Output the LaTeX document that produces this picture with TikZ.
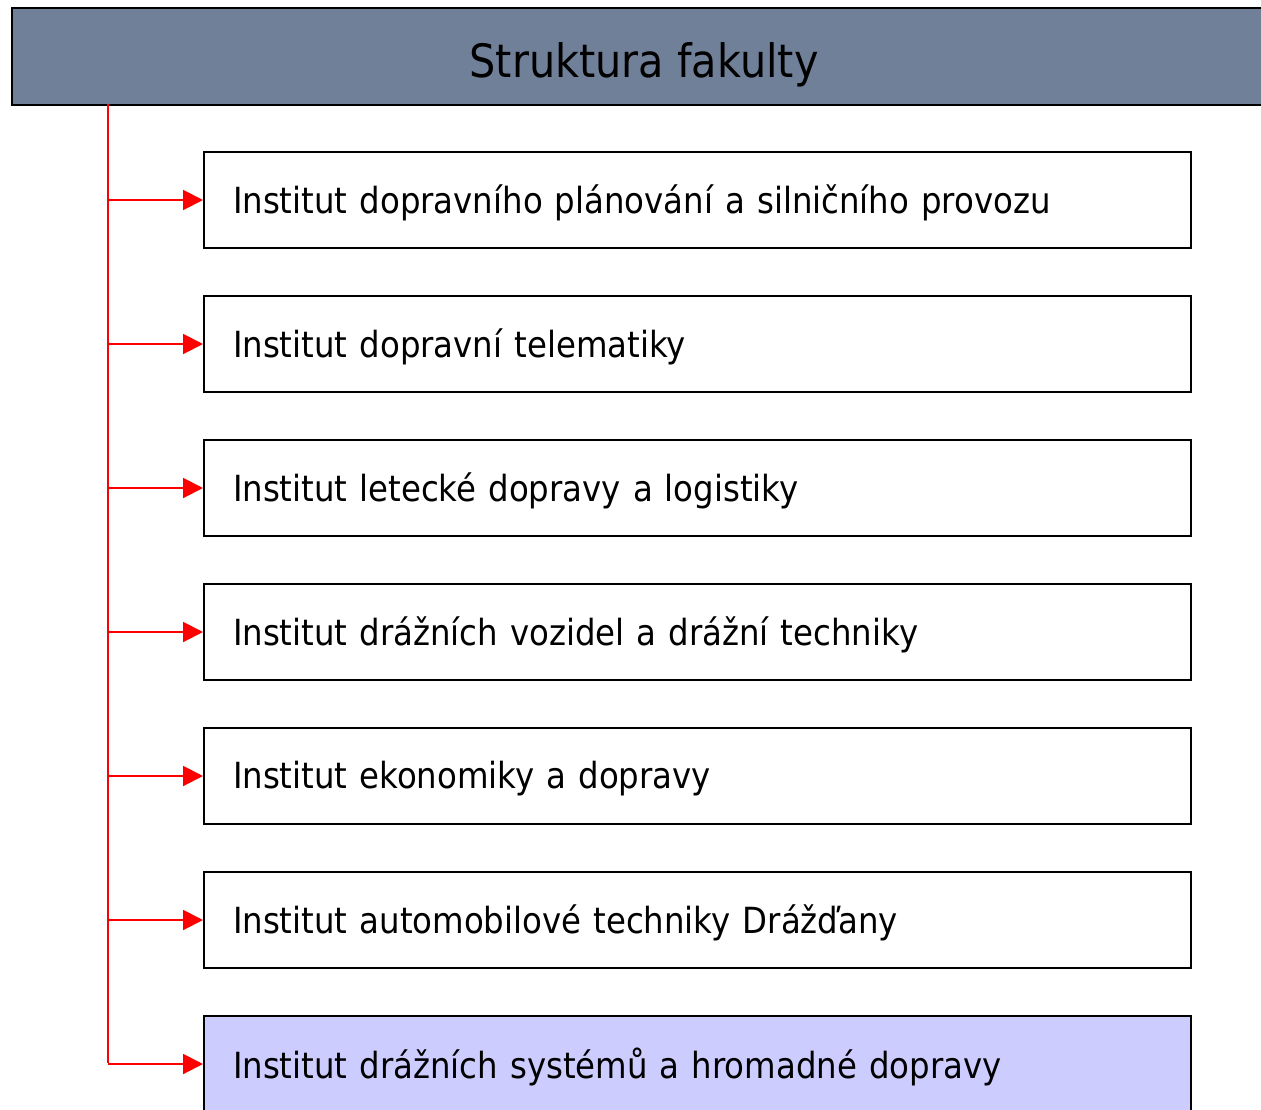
\documentclass[tikz,border=0pt]{standalone}
\usepackage{fontspec}
\setmainfont{DejaVu Sans}[FakeStretch=0.9]
\usetikzlibrary{arrows.meta}
\definecolor{titlefill}{RGB}{113,128,153}
\definecolor{lav}{RGB}{204,204,255}
\newcommand{\lowerby}[2]{\raisebox{-#1}[\height][\depth]{#2}}
\tikzset{
  x=1pt,y=-1pt,
  inst/.style={draw=black,line width=2pt,fill=white,minimum height=96pt,text width=929pt,
    inner xsep=29pt,align=left,font=\fontsize{36}{40}\selectfont,anchor=north west},
  conn/.style={draw=red,line width=2pt,-{Triangle[length=20pt,width=20pt]}},
}
\begin{document}
\begin{tikzpicture}
\useasboundingbox (0,0) rectangle (1261,1109);
\fill[white] (0,0) rectangle (1261,1109);
\node[draw=black,line width=2pt,fill=titlefill,minimum width=1264pt,minimum height=97pt,anchor=north west,
  font=\fontsize{46}{52}\selectfont] (title) at (11,7) {\lowerby{8pt}{Struktura fakulty}};
\node[inst] (b1) at (203,151) {\lowerby{3pt}{Institut dopravního plánování a silničního provozu}};
\node[inst] (b2) at (203,295) {\lowerby{3pt}{Institut dopravní telematiky}};
\node[inst] (b3) at (203,439) {\lowerby{3pt}{Institut letecké dopravy a logistiky}};
\node[inst] (b4) at (203,583) {\lowerby{3pt}{Institut drážních vozidel a drážní techniky}};
\node[inst] (b5) at (203,727) {\lowerby{3pt}{Institut ekonomiky a dopravy}};
\node[inst] (b6) at (203,871) {\lowerby{3pt}{Institut automobilové techniky Drážďany}};
\node[inst,fill=lav] (b7) at (203,1015) {\lowerby{3pt}{Institut drážních systémů a hromadné dopravy}};
\coordinate (top) at (108,104);
\coordinate (c7) at (108,1063);
\draw[red,line width=2pt] (top) -- (c7);
\foreach \i in {1,...,7}{
  \draw[conn] (b\i.west -| top) -- (b\i.west);
}
\end{tikzpicture}
\end{document}
